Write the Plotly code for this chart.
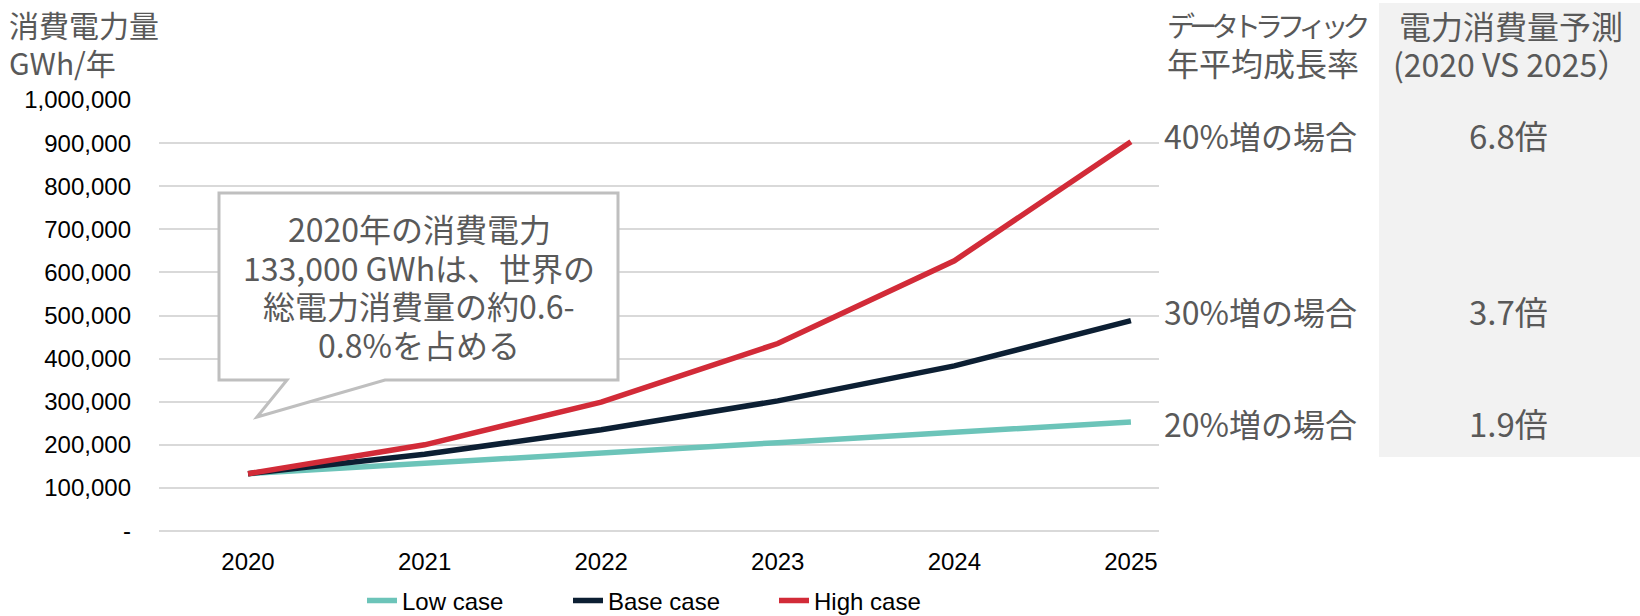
import plotly.graph_objects as go

# ---- data ----
years = [2020, 2021, 2022, 2023, 2024, 2025]
low_case = [133000, 156000, 182000, 205000, 229000, 253000]
base_case = [133000, 178000, 235000, 302000, 383000, 488000]
high_case = [133000, 200000, 299000, 435000, 627000, 903000]
series_names = ["Low case", "Base case", "High case"]
series_colors = ["#6CC4B9", "#0C1F33", "#D22B38"]

y_tickvals = [0, 100000, 200000, 300000, 400000, 500000, 600000, 700000, 800000, 900000, 1000000]
y_ticktext = ["-", "100,000", "200,000", "300,000", "400,000", "500,000", "600,000",
              "700,000", "800,000", "900,000", "1,000,000"]

growth_labels = ["40%増の場合", "30%増の場合", "20%増の場合"]
ratio_labels = ["6.8倍", "3.7倍", "1.9倍"]
callout_lines = ["2020年の消費電力", "133,000 GWhは、世界の", "総電力消費量の約0.6-", "0.8%を占める"]
ytitle_lines = ["消費電力量", "GWh/年"]
header1_lines = ["データトラフィック", "年平均成長率"]
header2_lines = ["電力消費量予測", "(2020 VS 2025）"]

# ---- layout geometry (pixels) ----
W, H = 1640, 616
L, R = 159, 1159   # plot area left/right
T, B = 100, 531    # plot area top/bottom


def px(x):
    return (x - L) / (R - L)


def py(y):
    return (B - y) / (B - T)


JP = "Noto Sans CJK JP, Noto Sans, sans-serif"
AR = "Liberation Sans, Arial, sans-serif"
GREY_TXT = "#595959"

fig = go.Figure()
for name, vals, col in zip(series_names, [low_case, base_case, high_case], series_colors):
    fig.add_trace(go.Scatter(x=years, y=vals, mode="lines", name=name,
                             line=dict(color=col, width=5.5)))

fig.update_layout(
    width=W, height=H,
    margin=dict(l=L, r=W - R, t=T, b=H - B, autoexpand=False),
    paper_bgcolor="white", plot_bgcolor="white",
    showlegend=True,
    legend=dict(orientation="h", x=px(362), xanchor="left", y=py(601), yanchor="middle",
                font=dict(family=AR, size=24, color="#000000"),
                entrywidth=161, entrywidthmode="pixels", bgcolor="rgba(0,0,0,0)"),
    xaxis=dict(range=[2019.496, 2025.159], tickvals=years, ticktext=[str(y) for y in years],
               showgrid=False, zeroline=False, showline=False,
               tickfont=dict(family=AR, size=24, color="#000000"), ticklabelstandoff=14),
    yaxis=dict(range=[0, 1000000], tickvals=y_tickvals, ticktext=y_ticktext,
               showgrid=True, gridcolor="#D9D9D9", gridwidth=2,
               zeroline=True, zerolinecolor="#D9D9D9", zerolinewidth=2, showline=False,
               tickfont=dict(family=AR, size=24, color="#000000"), ticklabelstandoff=27),
)

# grey panel on the right
fig.add_shape(type="rect", xref="paper", yref="paper",
              x0=px(1379), x1=px(1640), y0=py(457), y1=py(3),
              fillcolor="#F2F2F2", line=dict(width=0), layer="below")

# callout box with tail
pts = [(219, 193), (618, 193), (618, 380), (385, 380), (257, 417), (287, 380), (219, 380)]
path = "M " + " L ".join(f"{px(x):.5f},{py(y):.5f}" for x, y in pts) + " Z"
fig.add_shape(type="path", xref="paper", yref="paper", path=path,
              fillcolor="white", line=dict(color="#BFBFBF", width=3), layer="above")

annots = []


def add_text(text, x, y, size, anchor="center", color=GREY_TXT):
    annots.append(dict(x=px(x), y=py(y), xanchor=anchor, yanchor="middle", text=text,
                       font=dict(family=JP, size=size, color=color)))


for i, t in enumerate(callout_lines):
    add_text(t, 419, 228 + 38.5 * i, 32)
add_text(ytitle_lines[0], 7, 24, 30, anchor="left")
add_text(ytitle_lines[1], 7, 62, 30, anchor="left")
add_text("<span style='letter-spacing:-6px'>" + header1_lines[0] + "</span>", 1267, 25, 28)
add_text(header1_lines[1], 1263, 62, 32)
add_text(header2_lines[0], 1511, 25, 32)
add_text(header2_lines[1], 1511, 63, 32)
for lab, rat, yy in zip(growth_labels, ratio_labels, [135, 311, 423]):
    add_text(lab, 1260, yy, 32)
    add_text(rat, 1508, yy, 33)
for a in annots:
    a.update(xref="paper", yref="paper", showarrow=False)
fig.update_layout(annotations=annots)

fig.write_html("out.html")
